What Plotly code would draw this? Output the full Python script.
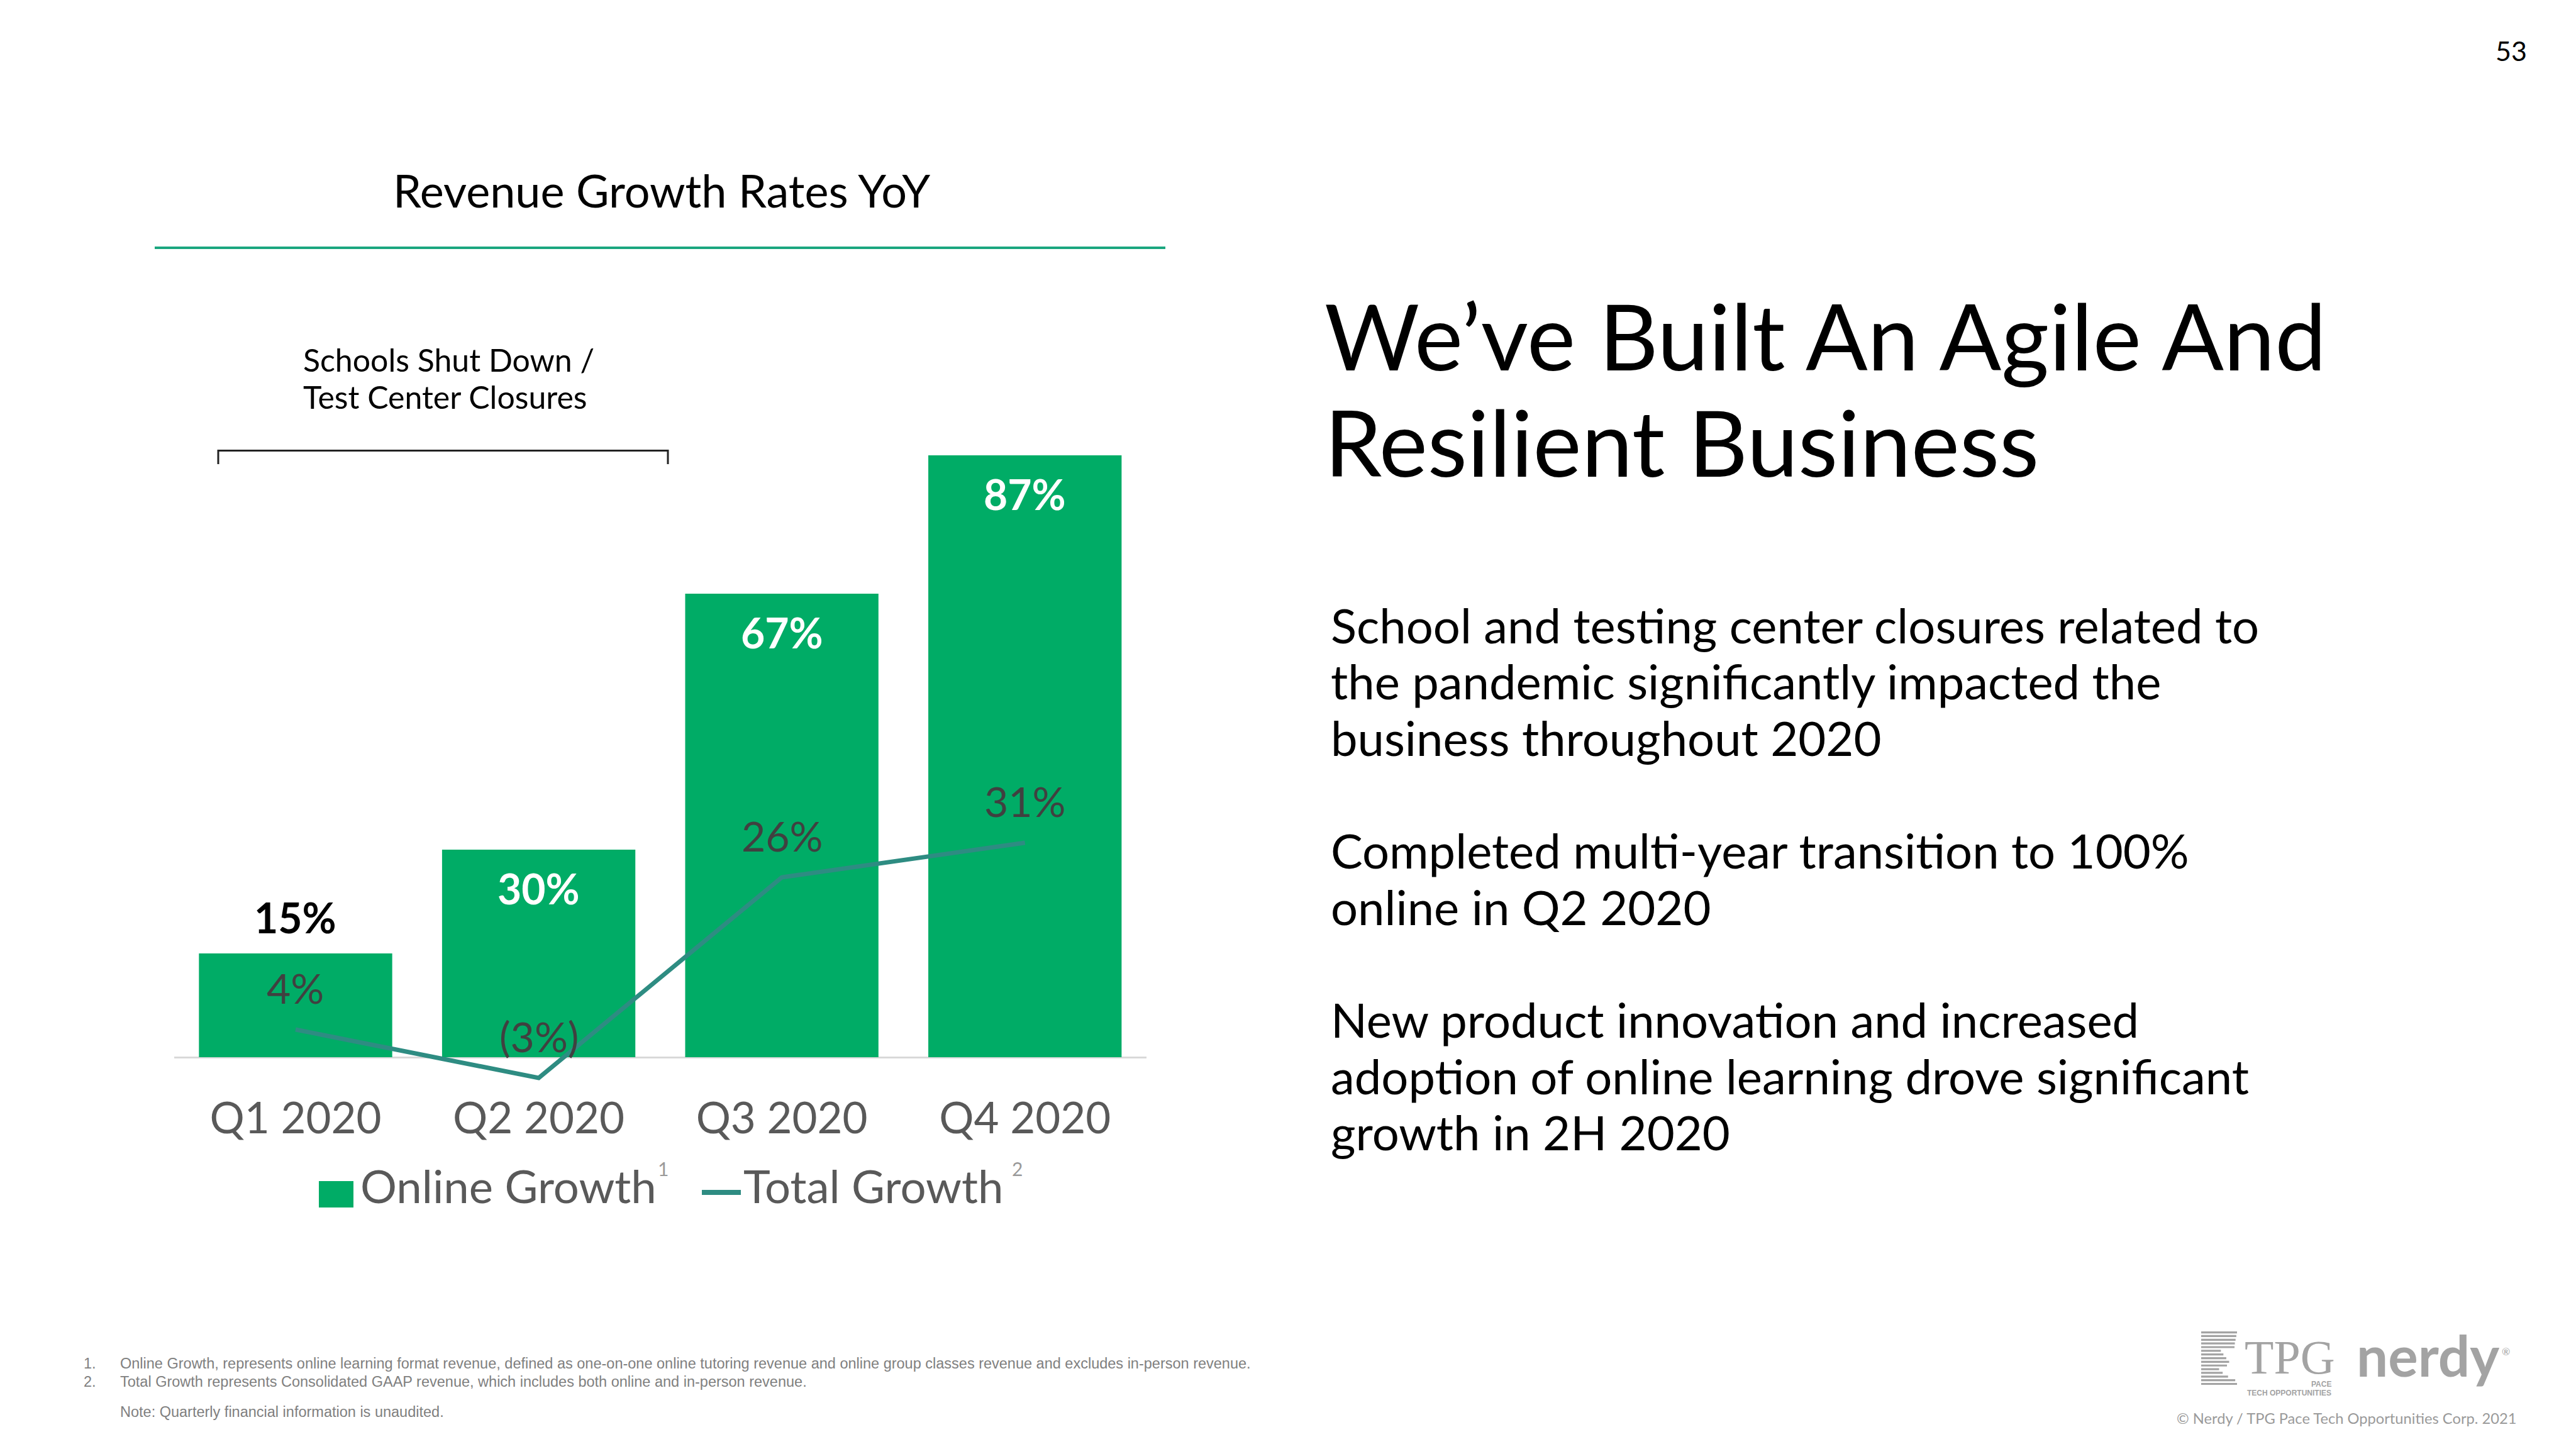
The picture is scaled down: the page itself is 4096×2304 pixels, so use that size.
import plotly.graph_objects as go

# ---------------- data ----------------
quarters = ["Q1 2020", "Q2 2020", "Q3 2020", "Q4 2020"]
online_growth = [15, 30, 67, 87]
total_growth = [4, -3, 26, 31]
online_name = "Online Growth"
total_name = "Total Growth"
chart_title = "Revenue Growth Rates YoY"
bracket_text = ["Schools Shut Down /", "Test Center Closures"]
headline = ["We\u2019ve Built An Agile And", "Resilient Business"]
body_lines = [
    (0, "School and testing center closures related to"),
    (1, "the pandemic significantly impacted the"),
    (2, "business throughout 2020"),
    (4, "Completed multi-year transition to 100%"),
    (5, "online in Q2 2020"),
    (7, "New product innovation and increased"),
    (8, "adoption of online learning drove significant"),
    (9, "growth in 2H 2020"),
]
footnotes = [
    ("1.", "Online Growth, represents online learning format revenue, defined as one-on-one online tutoring revenue and online group classes revenue and excludes in-person revenue."),
    ("2.", "Total Growth represents Consolidated GAAP revenue, which includes both online and in-person revenue."),
]
note_text = "Note: Quarterly financial information is unaudited."
page_number = "53"
copyright_text = "\u00a9 Nerdy / TPG Pace Tech Opportunities Corp. 2021"

# ---------------- style ----------------
OFF = 8  # page body margin
W, H = 4096 - OFF, 2304 - OFF
GREEN = "#00AC66"
TEAL = "#2E8C82"
RULE = "#1AA67F"
FONT = "Lato"
LOGO_GRAY = "#A3A3A3"


def fx(x):
    return (x - OFF) / W


def fy(y):
    return 1 - (y - OFF) / H


def fmt_total(v):
    return f"({abs(v)}%)" if v < 0 else f"{v}%"


fig = go.Figure()

fig.add_trace(go.Bar(
    x=quarters, y=online_growth, name=online_name,
    marker=dict(color=GREEN, line=dict(width=0)),
    showlegend=False, hoverinfo="skip",
))
fig.add_trace(go.Scatter(
    x=quarters, y=total_growth, name=total_name, mode="lines",
    line=dict(color=TEAL, width=7),
    showlegend=False, hoverinfo="skip",
))

annotations = []
shapes = []

# bar value labels
for q, v in zip(quarters, online_growth):
    inside = v >= 20
    annotations.append(dict(
        x=q, y=v, xref="x", yref="y", text=f"<b>{v}%</b>", showarrow=False,
        yanchor="middle", xanchor="center", yshift=-61 if inside else 58,
        font=dict(family=FONT, size=66, color="white" if inside else "black"),
    ))
# line value labels
for q, v in zip(quarters, total_growth):
    annotations.append(dict(
        x=q, y=v, xref="x", yref="y", text=fmt_total(v), showarrow=False,
        yanchor="middle", xanchor="center", yshift=67,
        font=dict(family=FONT, size=66, color="#404040"),
    ))


def txt(x, center_y, text, size, color="black", family=FONT, anchor="left"):
    annotations.append(dict(
        x=fx(x), y=fy(center_y), xref="paper", yref="paper", text=text,
        showarrow=False, xanchor=anchor, yanchor="middle",
        font=dict(family=family, size=size, color=color),
    ))


def base_center(baseline, size, k=0.387):
    return baseline - k * size


# chart title + rule
txt(1052, base_center(330, 72), chart_title, 72, anchor="center")
shapes.append(dict(type="line", xref="paper", yref="paper",
                   x0=fx(246), x1=fx(1853), y0=fy(394), y1=fy(394),
                   line=dict(color=RULE, width=4)))

# bracket annotation
for i, t in enumerate(bracket_text):
    txt(480, base_center(591 + 59 * i, 50), t, 50)
shapes.append(dict(type="path", xref="paper", yref="paper",
                   path=f"M {fx(347)} {fy(738)} L {fx(347)} {fy(716.5)} L {fx(1062)} {fy(716.5)} L {fx(1062)} {fy(738)}",
                   line=dict(color="#222222", width=3)))

# custom legend
LEG = 72.5
shapes.append(dict(type="rect", xref="paper", yref="paper",
                   x0=fx(507), x1=fx(562), y0=fy(1920), y1=fy(1878),
                   fillcolor=GREEN, line=dict(width=0)))
txt(571, base_center(1913, LEG), online_name, LEG, color="#595959")
txt(1044, 1858, "1", 30, color="#9A9A9A")
shapes.append(dict(type="line", xref="paper", yref="paper",
                   x0=fx(1116), x1=fx(1178), y0=fy(1896), y1=fy(1896),
                   line=dict(color=TEAL, width=8)))
txt(1180, base_center(1913, LEG), total_name, LEG, color="#595959")
txt(1607, 1858, "2", 30, color="#9A9A9A")

# right side headline
for i, t in enumerate(headline):
    txt(2104, base_center(589.4 + 169 * i, 146), t, 146)

# body
for k, t in body_lines:
    txt(2114, base_center(1022.7 + 89.6 * k, 76), t, 76)

# footnotes
for i, (n, t) in enumerate(footnotes):
    cy = 2168 + 28.6 * i
    txt(131, cy, n, 23.5, color="#808080", family="Liberation Sans")
    txt(189, cy, t, 23.5, color="#808080", family="Liberation Sans")
txt(189, 2245, note_text, 23.5, color="#808080", family="Liberation Sans")

# page number
txt(4020, base_center(97, 43), page_number, 43, anchor="right")

# copyright
txt(4003, 2255, copyright_text, 23.7, color="#9A9A9A", anchor="right")

# logos (approximation)
stripe_w = [1.0, 0.98, 0.96, 0.94, 0.93, 0.55, 0.62, 0.7, 0.78, 0.72, 0.5, 0.6, 0.75, 0.95, 1.0]
for i, wv in enumerate(stripe_w):
    yy = 2117 + i * 5.85
    shapes.append(dict(type="rect", xref="paper", yref="paper",
                       x0=fx(3500), x1=fx(3500 + 57 * wv), y0=fy(yy + 3.2), y1=fy(yy),
                       fillcolor=LOGO_GRAY, line=dict(width=0)))
txt(3567, base_center(2184, 76, 0.3375), "TPG", 76, color=LOGO_GRAY, family="Liberation Serif")
txt(3709, 2201, "<b>PACE</b>", 12, color=LOGO_GRAY, family="Liberation Sans", anchor="right")
txt(3709, 2215, "<b>TECH OPPORTUNITIES</b>", 12, color=LOGO_GRAY, family="Liberation Sans", anchor="right")
txt(3745, base_center(2189, 89), "<b>nerdy</b>", 89, color=LOGO_GRAY)
txt(3976, 2148, "\u00ae", 16, color=LOGO_GRAY)

ZERO_Y = 1681.0
PX_PER_PCT = 11.0
Y_MIN, Y_MAX = -4.6, 90

fig.update_layout(
    width=W, height=H,
    margin=dict(l=0, r=0, t=0, b=0),
    paper_bgcolor="white", plot_bgcolor="white",
    bargap=0.205,
    showlegend=False,
    annotations=annotations,
    shapes=shapes,
    xaxis=dict(
        domain=[fx(276.7), fx(1823)],
        type="category", range=[-0.5, 3.5],
        showline=False, showgrid=False, zeroline=False, ticks="",
        tickfont=dict(family=FONT, size=69, color="#595959"),
    ),
    yaxis=dict(
        domain=[fy(ZERO_Y - Y_MIN * PX_PER_PCT), fy(ZERO_Y - Y_MAX * PX_PER_PCT)],
        range=[Y_MIN, Y_MAX],
        showticklabels=False, showgrid=False, showline=False,
        zeroline=True, zerolinecolor="#D9D9D9", zerolinewidth=3,
    ),
)

fig.write_html("out.html")
